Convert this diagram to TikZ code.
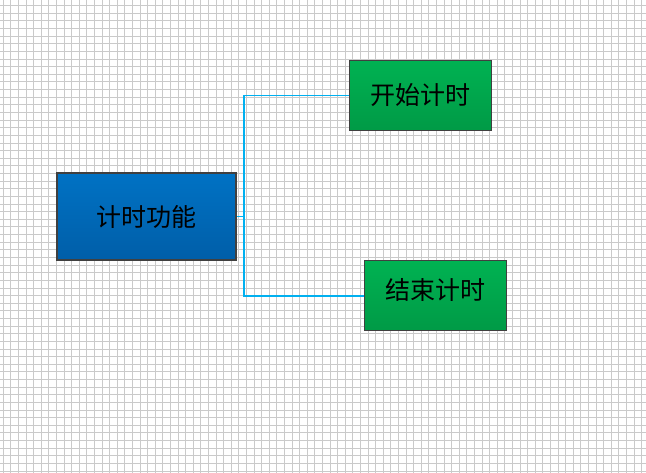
\documentclass[tikz,border=0pt]{standalone}
\usepackage{fontspec}
\newfontfamily\cjk{Noto Sans CJK SC}
\definecolor{gridgray}{HTML}{CACACA}
\definecolor{boxedge}{HTML}{404040}
\definecolor{linkcyan}{HTML}{00B0F0}
\definecolor{bluetop}{HTML}{0072C4}
\definecolor{bluebot}{HTML}{005EA8}
\definecolor{greentop}{HTML}{00B252}
\definecolor{greenbot}{HTML}{009A46}
\tikzset{
  mainbox/.style={draw=boxedge,line width=2pt,top color=bluetop,bottom color=bluebot,
    minimum width=179pt,minimum height=87pt,inner sep=0pt,font=\cjk\fontsize{25}{29}\selectfont},
  subbox/.style={draw=boxedge,line width=1pt,top color=greentop,bottom color=greenbot,
    minimum width=142pt,minimum height=70pt,inner sep=0pt,font=\cjk\fontsize{25}{29}\selectfont},
  link/.style={draw=linkcyan,line width=1.2pt}
}
\begin{document}
\begin{tikzpicture}[x=1pt,y=-1pt]
   \useasboundingbox (0,0) rectangle (646,473);
   \fill[white] (0,0) rectangle (646,473);
   % grid paper
   \foreach \i in {0,...,84} {
      \draw[gridgray,line width=1pt] (3.3+7.6*\i,0) -- (3.3+7.6*\i,473);
   }
   \foreach \j in {0,...,61} {
      \draw[gridgray,line width=1pt] (0,5.7+7.63*\j) -- (646,5.7+7.63*\j);
   }
   % boxes
   \node[mainbox] (timer) at (146.5,216.5) {计时功能};
   \node[subbox] (start) at (420.5,95.5) {开始计时};
   \node[subbox] (stop) at (435.5,296) {\raisebox{-3.5pt}[0pt][0pt]{结束计时}};
   % links
   \coordinate (split) at (244,216.5);
   \draw[link] (timer.east) -- (split);
   \draw[link] (split) |- (start.west);
   \draw[link] (split) |- (stop.west);
\end{tikzpicture}
\end{document}
